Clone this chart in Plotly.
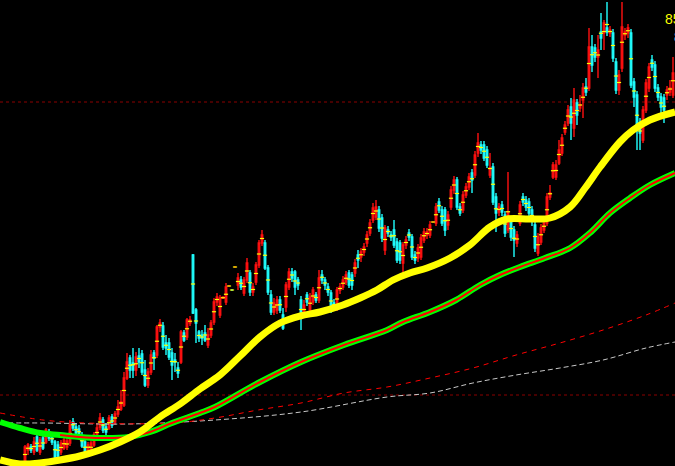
import plotly.graph_objects as go

# ---- candle data (one candle per trading day, index 0..216) ----
opens = [
    40.8, 42.0, 42.3, 41.8, 43.3, 41.8, 43.2, 42.8, 43.8, 43.5,
    42.8, 42.5, 41.8, 42.2, 42.3, 42.7, 44.8, 44.3, 44.1, 43.3,
    42.8, 42.0, 41.8, 42.5, 43.2, 44.3, 45.0, 44.3, 44.2, 45.3,
    44.8, 45.6, 46.1, 46.5, 49.2, 51.2, 50.7, 50.0, 51.4, 51.6,
    50.0, 48.5, 49.8, 51.7, 51.5, 54.3, 54.4, 52.7, 52.7, 51.7,
    51.0, 50.2, 50.8, 53.7, 53.3, 54.7, 61.5, 56.0, 53.8, 53.5,
    53.7, 52.5, 53.5, 54.8, 56.8, 55.5, 57.2, 56.8, 58.4, 58.0,
    60.3, 58.5, 59.0, 57.7, 59.0, 59.7, 57.8, 58.8, 60.5, 62.7,
    62.7, 60.2, 57.5, 55.8, 56.0, 57.0, 55.5, 56.3, 58.3, 59.8,
    59.8, 59.0, 57.0, 55.5, 57.5, 56.0, 56.8, 57.5, 57.0, 59.5,
    59.0, 58.3, 57.7, 56.7, 56.2, 58.0, 58.3, 58.8, 59.7, 59.5,
    59.7, 61.5, 61.3, 61.8, 62.7, 63.7, 65.0, 65.3, 66.0, 65.2,
    62.0, 64.0, 63.5, 64.0, 62.8, 62.7, 60.7, 62.5, 63.7, 63.3,
    61.5, 61.2, 61.3, 63.0, 63.5, 63.5, 64.8, 64.7, 66.8, 66.0,
    66.0, 64.5, 66.3, 68.0, 69.0, 66.3, 66.0, 67.5, 68.3, 69.7,
    69.5, 71.7, 72.5, 72.5, 72.0, 69.5, 70.3, 67.3, 65.8, 66.5,
    65.5, 64.0, 65.0, 64.0, 62.7, 64.7, 67.3, 67.0, 66.8, 66.0,
    64.5, 61.7, 62.8, 64.0, 64.7, 67.3, 69.3, 69.3, 70.7, 71.7,
    73.8, 74.7, 76.3, 74.2, 76.7, 76.2, 77.0, 78.3, 78.2, 82.3,
    82.2, 81.3, 83.8, 83.7, 84.2, 83.7, 83.7, 80.8, 78.0, 80.2,
    83.5, 83.7, 83.7, 78.8, 77.5, 74.7, 73.0, 76.0, 78.2, 81.0,
    80.5, 78.2, 77.3, 77.2, 77.5, 77.8, 77.5,
]
highs = [
    42.5, 42.7, 42.6, 43.3, 43.6, 43.3, 43.4, 44.2, 44.1, 43.7,
    43.0, 42.9, 43.0, 43.3, 43.2, 45.0, 45.2, 44.7, 44.5, 43.8,
    43.0, 42.8, 43.0, 43.8, 44.7, 45.7, 45.3, 44.7, 45.5, 45.6,
    45.9, 47.0, 48.0, 49.8, 51.7, 51.5, 52.2, 51.8, 52.2, 52.0,
    51.0, 50.2, 52.0, 52.0, 54.5, 55.1, 54.8, 53.5, 53.2, 52.2,
    51.7, 50.8, 54.0, 54.0, 55.2, 55.4, 61.6, 56.2, 54.0, 54.0,
    54.5, 54.2, 55.0, 57.2, 57.7, 57.5, 57.3, 58.7, 58.5, 58.1,
    60.4, 59.7, 59.4, 59.3, 61.2, 60.0, 58.7, 60.8, 63.0, 64.0,
    63.0, 60.5, 58.0, 57.2, 57.4, 57.4, 56.2, 58.8, 60.2, 60.2,
    60.0, 59.3, 57.4, 57.0, 57.8, 57.7, 58.3, 57.8, 60.0, 60.0,
    59.3, 58.7, 58.0, 57.1, 58.3, 58.7, 59.4, 59.9, 60.0, 59.8,
    61.1, 62.0, 62.2, 62.7, 63.9, 65.1, 66.7, 67.0, 66.4, 65.6,
    64.5, 64.4, 63.9, 65.0, 63.2, 63.0, 62.8, 63.4, 64.1, 63.6,
    61.9, 62.6, 63.6, 64.2, 64.2, 64.9, 64.9, 66.7, 67.2, 66.4,
    66.3, 65.9, 68.4, 69.4, 69.3, 66.7, 67.9, 68.7, 69.7, 70.1,
    71.9, 73.7, 72.9, 72.9, 72.4, 71.7, 70.7, 67.7, 66.7, 66.9,
    65.9, 69.8, 65.4, 64.4, 63.9, 66.9, 67.7, 67.4, 67.2, 66.4,
    64.9, 63.7, 64.6, 65.1, 67.7, 68.5, 70.8, 71.0, 73.0, 73.6,
    74.9, 76.5, 77.2, 78.2, 77.1, 77.5, 78.7, 79.2, 84.2, 83.5,
    82.6, 83.5, 85.7, 85.0, 86.8, 84.4, 84.1, 81.2, 80.0, 86.8,
    84.2, 84.6, 84.1, 79.2, 77.9, 75.2, 76.4, 79.1, 80.7, 81.5,
    80.9, 78.6, 77.7, 77.6, 78.4, 79.0, 81.3,
]
lows = [
    40.6, 41.5, 41.7, 41.5, 41.8, 41.5, 42.0, 42.6, 42.9, 42.5,
    41.0, 41.1, 41.5, 42.0, 42.0, 42.4, 43.9, 43.4, 43.2, 42.2,
    41.5, 41.8, 41.6, 42.3, 42.9, 44.0, 43.7, 43.5, 44.0, 44.2,
    44.5, 45.3, 45.9, 46.3, 49.0, 49.2, 49.2, 49.4, 50.2, 49.5,
    48.3, 48.2, 49.5, 50.0, 51.2, 53.8, 52.0, 51.5, 51.0, 49.0,
    49.8, 49.2, 50.6, 52.8, 53.0, 54.4, 55.6, 52.7, 52.8, 52.5,
    52.8, 52.2, 53.2, 54.5, 56.4, 55.2, 57.1, 56.5, 58.3, 57.9,
    60.2, 58.0, 58.0, 57.4, 58.7, 57.4, 57.4, 58.5, 60.2, 62.4,
    60.0, 57.5, 55.5, 55.5, 55.6, 55.7, 54.0, 55.8, 58.0, 58.8,
    57.5, 58.0, 54.0, 55.2, 56.4, 55.7, 56.5, 56.7, 56.7, 58.6,
    58.0, 57.4, 55.7, 56.0, 55.9, 57.6, 58.0, 58.5, 58.2, 58.0,
    59.3, 60.2, 60.8, 61.4, 62.3, 63.4, 64.7, 65.0, 63.8, 62.8,
    61.5, 63.3, 62.9, 62.2, 60.7, 60.6, 59.8, 62.1, 62.9, 61.0,
    60.6, 60.8, 61.0, 62.7, 63.1, 63.2, 64.7, 64.4, 65.7, 64.4,
    63.4, 64.0, 66.0, 67.6, 66.0, 65.4, 65.7, 67.2, 68.0, 67.7,
    69.2, 71.3, 71.6, 70.9, 70.2, 69.2, 66.5, 63.8, 65.4, 65.4,
    63.3, 63.7, 62.9, 61.3, 62.3, 64.4, 66.4, 65.9, 65.3, 64.4,
    61.8, 61.4, 62.5, 63.7, 64.4, 67.0, 69.1, 69.0, 70.5, 71.4,
    73.5, 74.4, 73.0, 73.3, 74.5, 75.8, 75.2, 77.4, 77.9, 79.8,
    80.8, 79.2, 82.0, 82.0, 83.4, 83.3, 80.8, 77.6, 77.5, 79.8,
    83.0, 83.2, 78.2, 76.3, 72.0, 72.0, 72.7, 75.7, 77.8, 79.9,
    77.8, 76.9, 75.5, 74.7, 77.0, 77.4, 77.2,
]
closes = [
    42.3, 42.5, 42.0, 42.8, 42.0, 43.0, 42.2, 44.0, 43.2, 42.8,
    41.3, 41.4, 42.7, 43.0, 42.9, 44.5, 44.2, 43.7, 43.5, 42.4,
    41.8, 42.5, 42.7, 43.5, 44.2, 45.2, 44.0, 43.8, 45.2, 44.5,
    45.6, 46.3, 46.8, 49.2, 50.8, 50.0, 50.0, 51.3, 50.8, 49.8,
    48.5, 49.8, 51.5, 51.2, 54.3, 54.7, 52.3, 52.2, 51.3, 50.5,
    50.8, 49.7, 53.8, 53.0, 55.0, 55.0, 55.7, 54.7, 53.2, 53.2,
    53.0, 53.5, 54.7, 56.8, 57.3, 57.2, 57.3, 58.3, 58.4, 58.0,
    60.3, 59.2, 58.3, 59.0, 60.7, 57.8, 58.3, 60.5, 62.7, 63.5,
    60.2, 57.8, 55.8, 56.7, 57.0, 56.0, 54.2, 58.5, 59.8, 59.2,
    58.3, 58.5, 55.8, 56.5, 56.8, 57.3, 58.0, 57.0, 59.2, 59.0,
    58.5, 57.8, 56.2, 56.3, 58.0, 58.3, 59.0, 59.5, 58.5, 58.5,
    60.7, 61.0, 61.8, 62.3, 63.5, 64.7, 66.2, 66.3, 64.2, 63.2,
    64.2, 63.7, 63.3, 62.5, 61.0, 61.0, 62.5, 63.0, 63.3, 61.3,
    61.0, 62.2, 63.2, 63.8, 63.8, 64.5, 64.8, 66.3, 66.0, 64.7,
    64.0, 65.5, 68.0, 69.0, 66.3, 65.7, 67.5, 68.3, 69.3, 69.0,
    71.5, 72.7, 72.0, 71.2, 70.5, 70.2, 66.8, 65.7, 66.3, 65.8,
    63.7, 65.8, 63.3, 63.0, 63.5, 66.5, 66.8, 66.3, 65.7, 65.0,
    62.2, 63.3, 64.2, 64.7, 67.3, 67.7, 70.5, 70.5, 72.0, 73.2,
    74.5, 76.0, 74.7, 77.0, 75.5, 76.5, 78.2, 77.8, 82.3, 80.5,
    81.3, 82.0, 83.2, 84.7, 83.8, 84.0, 81.2, 78.0, 79.5, 84.3,
    83.8, 84.2, 78.5, 77.3, 74.5, 73.7, 76.0, 78.7, 80.3, 80.3,
    78.2, 77.3, 76.3, 76.0, 78.0, 78.2, 79.7,
]
days = list(range(len(opens)))

# ---- moving averages (day position, price) ----
ma_yellow_x = [-8.3, -1.7, 5, 11.7, 18.3, 25, 31.7, 38.3, 45, 51.7, 58.3, 65, 71.7, 78.3,
               85, 91.7, 98.3, 106, 111.7, 117.3, 122.7, 128.3, 134, 141.7, 148.3, 155,
               160.7, 168.3, 175, 181.7, 186.7, 191.7, 198.3, 202.7, 208.3, 216.7]
ma_yellow = [41.0, 40.6, 40.7, 41.0, 41.4, 42.0, 42.8, 43.8, 45.3, 46.6, 48.1, 49.5, 51.4, 53.3,
             54.7, 55.4, 55.8, 56.5, 57.2, 58.0, 59.0, 59.7, 60.2, 61.2, 62.5, 64.3,
             65.1, 65.1, 65.2, 66.3, 68.2, 70.3, 72.8, 74.0, 75.0, 75.8]

ma_green_x = [-8.3, -1.7, 5, 11.7, 18.3, 25, 34.7, 41.7, 49, 58.3, 63.3, 77.7, 92, 106.3,
              120.7, 126, 135, 143.7, 151.7, 158.3, 165, 173.3, 181.7, 188.3, 195, 201.7,
              208.3, 216.7]
ma_green = [44.8, 44.2, 43.7, 43.5, 43.3, 43.2, 43.3, 43.8, 44.7, 45.7, 46.3, 48.7, 50.8, 52.5,
            54.0, 54.8, 55.8, 57.0, 58.5, 59.5, 60.3, 61.2, 62.2, 63.7, 65.7, 67.2,
            68.5, 69.7]

ma_red_x = [-8.3, 6, 20.3, 49, 63.3, 77.7, 92, 106.3, 120.7, 135, 149.3, 163.7, 178.3,
            192.7, 207, 216.7]
ma_red = [45.7, 45.0, 44.7, 44.7, 45.2, 46.0, 46.7, 47.7, 48.3, 49.2, 50.2, 51.5, 52.7,
          54.0, 55.5, 56.7]

ma_white_x = [-8.3, 6, 34.7, 63.3, 92, 120.7, 135, 149.3, 163.7, 178.3, 192.7, 207, 216.7]
ma_white = [44.7, 44.7, 44.6, 45.0, 45.8, 47.3, 47.7, 48.7, 49.5, 50.2, 51.0, 52.2, 52.8]

grid_levels = [76.8, 47.5]
label_high = "85.20"
label_low = "80.55"

fig = go.Figure()

for lvl in grid_levels:
    fig.add_hline(y=lvl, line=dict(color="#8B0000", width=1, dash="3px,3px"), layer="below")

fig.add_trace(go.Scatter(x=ma_white_x, y=ma_white, mode="lines",
                         line=dict(color="#C8C8C8", width=1, dash="5px,3px", shape="spline"),
                         hoverinfo="skip"))
fig.add_trace(go.Scatter(x=ma_red_x, y=ma_red, mode="lines",
                         line=dict(color="#FF0000", width=1, dash="5px,5px", shape="spline"),
                         hoverinfo="skip"))

fig.add_trace(go.Candlestick(
    x=days, open=opens, high=highs, low=lows, close=closes,
    increasing=dict(line=dict(color="#FF1010", width=1.4), fillcolor="#000000"),
    decreasing=dict(line=dict(color="#20FFFF", width=1.4), fillcolor="#000000"),
    whiskerwidth=0, hoverinfo="skip",
))

avg_price = [(o + h + l + c) / 4 for o, h, l, c in zip(opens, highs, lows, closes)]
fig.add_trace(go.Scatter(x=days, y=avg_price, mode="markers",
                         marker=dict(symbol="line-ew", size=3, color="#FFFF00",
                                     line=dict(color="#FFFF00", width=1.2)),
                         hoverinfo="skip"))

fig.add_trace(go.Scatter(x=ma_green_x, y=ma_green, mode="lines",
                         line=dict(color="#00FF00", width=6, shape="spline"), hoverinfo="skip"))
fig.add_trace(go.Scatter(x=ma_green_x[3:], y=ma_green[3:], mode="lines",
                         line=dict(color="#FF0000", width=2, shape="spline"), hoverinfo="skip"))
fig.add_trace(go.Scatter(x=ma_yellow_x, y=ma_yellow, mode="lines",
                         line=dict(color="#FFFF00", width=7, shape="spline"), hoverinfo="skip"))

fig.add_annotation(text=label_high, xref="paper", yref="paper", x=663 / 675, y=1 - 19 / 466,
                   xanchor="left", yanchor="middle", showarrow=False,
                   font=dict(color="#FFFF00", size=14, family="Arial"))
fig.add_annotation(text=label_low, xref="paper", yref="paper", x=672 / 675, y=1 - 37 / 466,
                   xanchor="left", yanchor="middle", showarrow=False,
                   font=dict(color="#00FFFF", size=14, family="Arial"))

fig.update_layout(
    width=675, height=466,
    margin=dict(l=0, r=0, t=0, b=0, pad=0),
    paper_bgcolor="#000000", plot_bgcolor="#000000",
    showlegend=False, hovermode=False,
    boxgap=0.3,
    xaxis=dict(visible=False, range=[-8.333, 216.667], rangeslider=dict(visible=False),
               showgrid=False, zeroline=False),
    yaxis=dict(visible=False, range=[40.4, 87.0], showgrid=False, zeroline=False),
)

fig.write_html("out.html", config={"displayModeBar": False},
               post_script="document.body.style.margin='0px';")
